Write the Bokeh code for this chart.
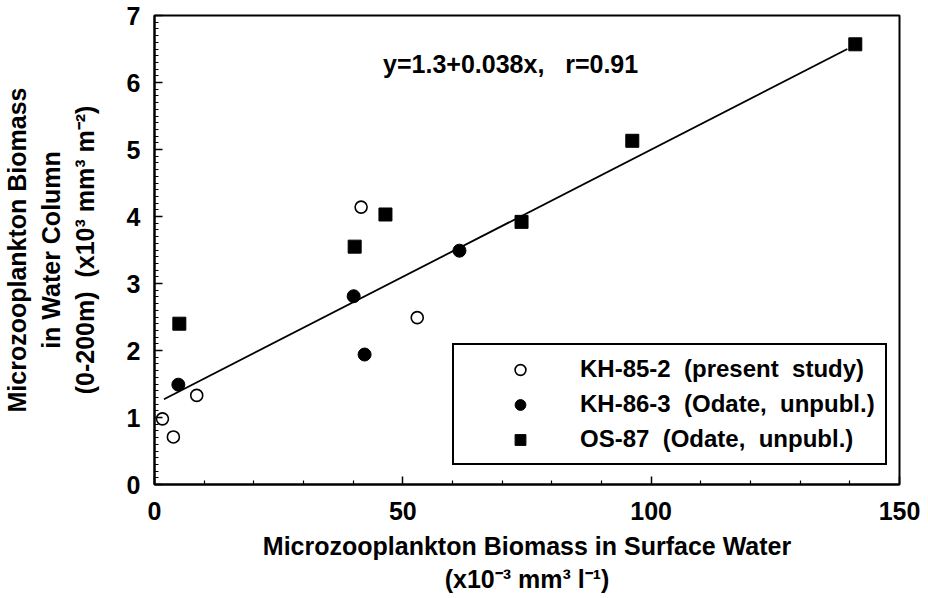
from bokeh.plotting import figure
from bokeh.models import Range1d, FixedTicker, Label
from bokeh.embed import file_html
from bokeh.resources import INLINE

# ---- data ----
kh85_x = [1.6, 3.8, 8.5, 41.6, 52.9]
kh85_y = [0.98, 0.71, 1.33, 4.14, 2.49]

kh86_x = [4.8, 40.1, 42.3, 61.4]
kh86_y = [1.49, 2.81, 1.94, 3.49]

os87_x = [5.0, 40.3, 46.5, 73.9, 96.2, 141.1]
os87_y = [2.40, 3.55, 4.03, 3.92, 5.13, 6.57]

fit_intercept = 1.2
fit_slope = 0.038
fit_x = [1.9, 139.5]

x_ticks = [0, 50, 100, 150]
y_ticks = [0, 1, 2, 3, 4, 5, 6, 7]

NB = "\u00a0"
eq_label = "y=1.3+0.038x," + NB * 3 + "r=0.91"
legend_labels = ["KH-85-2" + NB * 2 + "(present" + NB * 2 + "study)",
                 "KH-86-3" + NB * 2 + "(Odate," + NB * 2 + "unpubl.)",
                 "OS-87" + NB * 2 + "(Odate," + NB * 2 + "unpubl.)"]

FONT = "Liberation Sans"

p = figure(width=920, height=596,
           x_range=Range1d(0, 150), y_range=Range1d(0, 7),
           output_backend="svg", toolbar_location=None,
           min_border_left=154, min_border_right=21,
           min_border_top=15, min_border_bottom=110)

p.xgrid.visible = False
p.ygrid.visible = False
p.background_fill_color = "white"
p.border_fill_color = "white"
p.outline_line_color = "black"
p.outline_line_width = 2
p.outline_line_alpha = 1.0

# regression line
fit_y = [fit_intercept + fit_slope * xx for xx in fit_x]
p.line(fit_x, fit_y, line_color="black", line_width=1.8)

# data
p.scatter(kh85_x, kh85_y, marker="circle", size=12, fill_color="white",
          line_color="black", line_width=1.6, legend_label=legend_labels[0])
p.scatter(kh86_x, kh86_y, marker="circle", size=13, fill_color="black",
          line_color="black", legend_label=legend_labels[1])
p.scatter(os87_x, os87_y, marker="square", size=13, fill_color="black",
          line_color="black", legend_label=legend_labels[2])

# equation annotation
p.add_layout(Label(x=71.7, y=6.28, text=eq_label, text_align="center",
                   text_baseline="middle", text_font=FONT,
                   text_font_size="25px", text_font_style="bold",
                   text_color="black"))

# axes
p.xaxis.ticker = FixedTicker(ticks=x_ticks,
                             minor_ticks=[v for v in range(0, 151, 10) if v % 50])
p.yaxis.ticker = FixedTicker(ticks=y_ticks,
                             minor_ticks=[i / 10 for i in range(0, 71) if i % 10])

p.xaxis.axis_label = "Microzooplankton Biomass in Surface Water\n(x10\u207b\u00b3 mm\u00b3 l\u207b\u00b9)"
p.yaxis.axis_label = ("Microzooplankton Biomass\nin Water Column\n(0-200m)"
                      + NB * 2 + "(x10\u00b3 mm\u00b3 m\u207b\u00b2)")

for ax in (p.xaxis[0], p.yaxis[0]):
    ax.axis_line_color = "black"
    ax.axis_line_width = 2
    ax.major_tick_in = 8
    ax.major_tick_out = 0
    ax.minor_tick_in = 4
    ax.minor_tick_out = 0
    ax.major_tick_line_color = "black"
    ax.minor_tick_line_color = "black"
    ax.major_tick_line_width = 1.5
    ax.minor_tick_line_width = 1.2
    ax.major_label_text_font = FONT
    ax.major_label_text_font_size = "25px"
    ax.major_label_text_font_style = "bold"
    ax.major_label_text_color = "black"
    ax.axis_label_text_font = FONT
    ax.axis_label_text_font_size = "25px"
    ax.axis_label_text_font_style = "bold"
    ax.axis_label_text_color = "black"

p.xaxis.major_label_standoff = 17
p.xaxis.axis_label_standoff = 9
p.yaxis.major_label_standoff = 14
p.yaxis.axis_label_standoff = 25

# legend
lg = p.legend[0]
lg.location = (298, 19)
lg.margin = 0
lg.padding = 10
lg.spacing = 7
lg.glyph_width = 112
lg.glyph_height = 27
lg.label_height = 27
lg.label_standoff = 4
lg.label_text_font = FONT
lg.label_text_font_size = "24px"
lg.label_text_font_style = "bold"
lg.label_text_color = "black"
lg.border_line_color = "black"
lg.border_line_width = 2
lg.border_line_alpha = 1.0
lg.background_fill_color = "white"
lg.background_fill_alpha = 1.0

open("out.html", "w").write(file_html(p, INLINE))
